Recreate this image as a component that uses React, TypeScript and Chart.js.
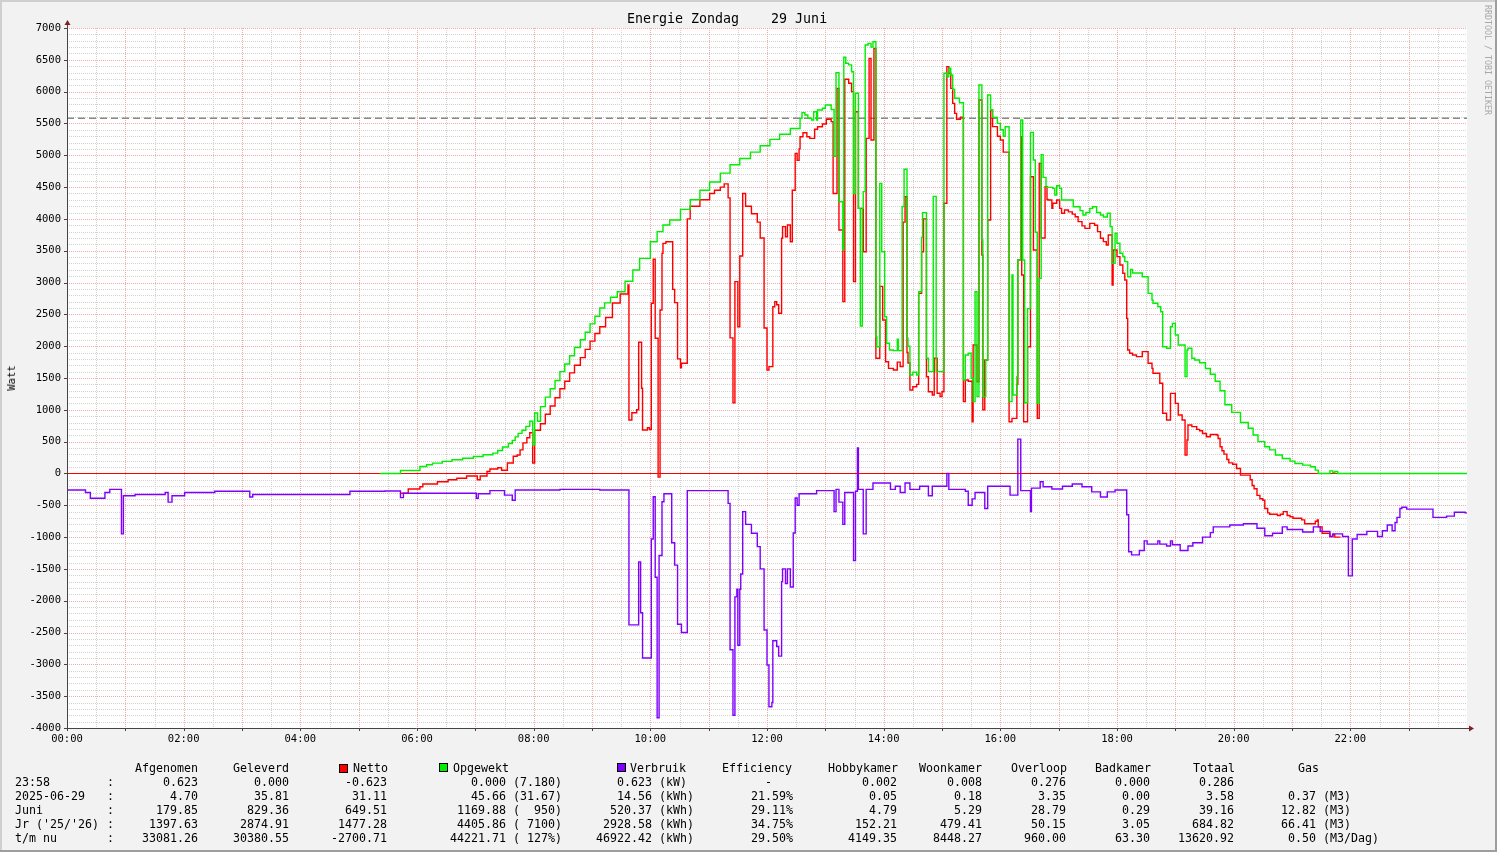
import { useEffect, useRef } from 'react';
import { Chart, registerables } from 'chart.js';

Chart.register(...registerables);

// ---------------- DATA (time in minutes since 00:00, value in Watt) ----------------
const opgewekt: [number, number][] = [
  [322, 0], [343, 47], [363, 110], [370, 136], [376, 162], [386, 190], [396, 215], [407, 240], [418, 267], [428, 293],
  [438, 320], [443, 360], [448, 415], [454, 470], [458, 520], [461, 575], [464, 630], [468, 680], [472, 740], [476, 820],
  [479, 445], [481, 950], [484, 820], [487, 1050], [492, 1200], [497, 1330], [502, 1460], [507, 1600], [512, 1720], [517, 1850],
  [522, 1980], [528, 2100], [533, 2220], [538, 2350], [543, 2470], [548, 2600], [553, 2680], [559, 2770], [566, 2856], [574, 3020],
  [582, 3197], [589, 3380], [600, 3642], [607, 3800], [613, 3904], [620, 3983], [631, 4150], [641, 4300], [651, 4450], [661, 4580],
  [672, 4720], [682, 4850], [692, 4950], [703, 5050], [713, 5150], [723, 5250], [733, 5330], [744, 5420], [754, 5581], [756, 5670],
  [759, 5633], [762, 5581], [766, 5554], [768, 5685], [771, 5554], [772, 5711], [777, 5738], [780, 5790], [786, 5720], [789, 4985],
  [791, 6298], [794, 4270], [798, 3512], [799, 6540], [801, 6445], [804, 6420], [807, 6313], [809, 4400], [811, 5974], [814, 4166],
  [816, 2317], [818, 4166], [819, 4428], [821, 6733], [824, 6759], [827, 6700], [829, 6785], [832, 2150], [833, 1992], [836, 4559],
  [838, 3485], [841, 2463], [843, 2045], [846, 1940], [850, 1930], [854, 2108], [855, 1930], [859, 4193], [861, 4780], [864, 2124],
  [865, 2000], [867, 1547], [870, 1590], [874, 1547], [876, 2856], [879, 3710], [880, 4098], [884, 1810], [886, 1600], [891, 4354],
  [894, 1600], [902, 6288], [905, 6235], [907, 6367], [909, 6261], [911, 6036], [913, 5895], [918, 5826], [922, 1468], [924, 1861],
  [927, 1888], [930, 1495], [932, 1128], [934, 2856], [936, 1207], [938, 6104], [941, 3669], [942, 1207], [945, 1783], [947, 5947],
  [950, 5711], [952, 5596], [957, 5502], [960, 5400], [963, 5300], [965, 5449], [969, 1128], [972, 3119], [973, 1233], [977, 1521],
  [978, 3354], [981, 5554], [983, 3354], [985, 1110], [988, 2590], [991, 5360], [994, 4926], [996, 3790], [998, 1102], [1000, 3066],
  [1002, 5010], [1004, 4653], [1007, 4495], [1014, 4480], [1016, 4376], [1018, 4520], [1021, 4480], [1023, 4297], [1035, 4192], [1042, 4130],
  [1045, 4061], [1048, 4100], [1052, 4166], [1055, 4192], [1059, 4100], [1063, 4061], [1066, 4030], [1070, 4090], [1073, 3878], [1075, 3302],
  [1078, 3774], [1080, 3617], [1083, 3460], [1086, 3410], [1088, 3328], [1091, 3092], [1094, 3207], [1096, 3150], [1106, 3092], [1112, 2830],
  [1116, 2725], [1117, 2674], [1122, 2620], [1125, 2542], [1127, 1992], [1131, 1967], [1135, 2306], [1137, 2358], [1140, 2175], [1143, 2019],
  [1150, 1521], [1152, 1940], [1153, 1967], [1157, 1810], [1160, 1783], [1165, 1740], [1171, 1650], [1176, 1560], [1181, 1450], [1186, 1300],
  [1191, 1080], [1198, 960], [1207, 800], [1215, 710], [1220, 605], [1225, 500], [1232, 420], [1237, 370], [1243, 290], [1250, 236],
  [1258, 194], [1263, 157], [1271, 131], [1279, 105], [1284, 52], [1287, 0], [1299, 40], [1302, 15], [1304, 30], [1307, 0], [1440, 0],
];

const netto: [number, number][] = [
  [343, -310], [351, -245], [363, -210], [366, -165], [381, -130], [392, -100], [401, -75], [411, -40], [422, -100], [425, -40],
  [432, 30], [435, 70], [443, 90], [447, 50], [453, 165], [459, 270], [463, 290], [466, 370], [469, 480], [473, 560],
  [476, 640], [479, 165], [481, 680], [487, 780], [492, 930], [497, 1060], [502, 1190], [507, 1330], [512, 1450], [517, 1580],
  [522, 1700], [528, 1820], [533, 1950], [538, 2080], [543, 2200], [548, 2306], [554, 2450], [561, 2678], [569, 2820], [577, 2962],
  [578, 840], [581, 955], [586, 1000], [588, 2061], [591, 1338], [592, 683], [597, 720], [599, 690], [601, 2674], [603, 3365],
  [605, 2124], [608, -57], [610, 2569], [612, 3459], [613, 3616], [616, 3642], [623, 2893], [625, 2684], [628, 1800], [631, 1660],
  [632, 1731], [638, 4000], [641, 4200], [651, 4300], [661, 4400], [666, 4450], [672, 4500], [676, 4550], [680, 4330], [682, 2130],
  [685, 1110], [687, 3014], [690, 2306], [692, 3417], [695, 4400], [698, 4200], [704, 4080], [710, 3950], [713, 3700], [717, 2285],
  [720, 1626], [722, 1678], [726, 2620], [728, 2700], [730, 2650], [732, 2517], [735, 3695], [736, 3878], [739, 3720], [741, 3904],
  [744, 3640], [746, 4450], [749, 5030], [751, 4920], [753, 5100], [754, 5292], [757, 5355], [761, 5292], [764, 5266], [769, 5408],
  [772, 5449], [777, 5491], [781, 5565], [786, 5528], [788, 4400], [792, 6052], [794, 3826], [798, 2700], [800, 6194], [804, 6131],
  [807, 6000], [809, 3014], [811, 5685], [814, 4166], [819, 3485], [822, 5266], [825, 6523], [827, 5240], [830, 6680], [832, 1810],
  [836, 2940], [839, 2411], [842, 1756], [845, 1652], [850, 1626], [854, 1750], [857, 1680], [860, 3950], [862, 4350], [864, 1900],
  [865, 1735], [867, 1311], [870, 1363], [874, 1400], [876, 2830], [879, 3485], [881, 4000], [884, 1520], [886, 1285], [890, 1233],
  [892, 1810], [895, 1260], [898, 1207], [900, 1285], [902, 4245], [905, 6393], [907, 6288], [909, 6052], [911, 5816], [913, 5659],
  [915, 5565], [919, 5600], [922, 1128], [924, 1469], [927, 1450], [931, 813], [932, 2019], [936, 1442], [938, 5869], [941, 3433],
  [942, 1000], [944, 1783], [947, 3983], [950, 5711], [952, 5450], [957, 5300], [960, 5240], [963, 5050], [969, 813], [972, 866],
  [977, 1400], [978, 3354], [981, 5292], [982, 3119], [984, 813], [988, 1992], [991, 4663], [994, 3512], [998, 866], [1000, 4873],
  [1002, 3700], [1006, 4506], [1008, 4306], [1009, 4297], [1013, 4166], [1014, 4245], [1018, 4297], [1021, 4166], [1023, 4088], [1026, 4140],
  [1030, 4110], [1034, 4075], [1037, 4035], [1040, 3957], [1044, 3890], [1047, 3852], [1052, 3930], [1057, 3900], [1060, 3800], [1063, 3695],
  [1066, 3643], [1069, 3590], [1071, 3747], [1075, 2962], [1076, 3512], [1080, 3407], [1083, 3276], [1086, 3145], [1088, 3040], [1090, 2437],
  [1091, 1940], [1093, 1888], [1096, 1862], [1100, 1836], [1106, 1914], [1112, 1731], [1116, 1652], [1117, 1574], [1124, 1417], [1127, 945],
  [1131, 840], [1135, 1259], [1140, 1102], [1143, 919], [1147, 840], [1150, 290], [1152, 526], [1153, 762], [1157, 736], [1162, 692],
  [1165, 670], [1168, 628], [1172, 576], [1176, 611], [1183, 600], [1184, 550], [1186, 420], [1188, 356], [1190, 304], [1193, 220],
  [1195, 167], [1199, 145], [1203, 78], [1207, -26], [1217, -100], [1219, -190], [1221, -240], [1224, -345], [1227, -397], [1230, -420],
  [1232, -550], [1235, -620], [1237, -640], [1245, -660], [1248, -640], [1251, -600], [1255, -660], [1258, -680], [1261, -705], [1270, -730],
  [1273, -790], [1284, -750], [1286, -730], [1287, -840], [1291, -940], [1299, -990], [1302, -960], [1304, -1000], [1310, -1000],
];

const verbruik: [number, number][] = [
  [0, -260], [19, -300], [24, -390], [34, -390], [39, -300], [44, -250], [56, -950], [58, -350], [70, -330], [101, -300],
  [104, -450], [108, -350], [121, -300], [152, -280], [188, -370], [191, -330], [240, -330], [291, -280], [327, -276], [343, -380],
  [346, -310], [421, -390], [423, -320], [435, -270], [450, -340], [458, -420], [461, -260], [507, -250], [548, -260], [578, -2380],
  [588, -1390], [590, -2190], [592, -2900], [601, -1030], [603, -365], [605, -1630], [607, -3840], [609, -1290], [612, -445], [614, -320],
  [622, -1090], [625, -1440], [628, -2370], [632, -2500], [638, -270], [680, -470], [682, -2770], [685, -3800], [687, -1940], [689, -1820],
  [690, -2700], [692, -1820], [693, -1580], [695, -600], [698, -800], [704, -940], [710, -1150], [713, -1500], [717, -2460], [720, -3010],
  [722, -3665], [725, -3600], [726, -2630], [730, -2720], [732, -2870], [735, -1700], [736, -1500], [739, -1730], [741, -1500], [744, -1785],
  [747, -935], [749, -385], [751, -500], [753, -320], [771, -270], [789, -600], [791, -250], [794, -450], [798, -800], [800, -300],
  [809, -1370], [811, -280], [813, 400], [814, -250], [819, -950], [822, -250], [829, -150], [839, -150], [847, -250], [852, -200],
  [857, -300], [862, -150], [867, -250], [877, -200], [886, -350], [890, -200], [905, 0], [907, -250], [924, -280], [927, -500],
  [931, -400], [934, -300], [944, -550], [947, -200], [970, -340], [978, 540], [981, -270], [991, -600], [992, -230], [1001, -130],
  [1004, -210], [1013, -245], [1024, -200], [1034, -165], [1044, -210], [1054, -290], [1063, -370], [1070, -290], [1078, -260], [1090, -650],
  [1092, -1230], [1095, -1280], [1103, -1210], [1108, -1060], [1111, -1110], [1122, -1060], [1124, -1110], [1131, -1140], [1135, -1060], [1137, -1120],
  [1145, -1210], [1153, -1140], [1158, -1090], [1168, -1000], [1176, -930], [1179, -840], [1196, -810], [1210, -790], [1224, -860], [1232, -980],
  [1240, -940], [1250, -840], [1255, -880], [1271, -920], [1282, -840], [1289, -910], [1299, -990], [1302, -950], [1312, -990], [1318, -1610],
  [1322, -1030], [1327, -960], [1337, -910], [1348, -990], [1353, -900], [1358, -810], [1363, -900], [1366, -770], [1368, -690], [1371, -550],
  [1373, -530], [1378, -560], [1405, -690], [1419, -670], [1427, -610], [1438, -620], [1440, -620],
];

const referenceLevel = 5580;
const timeLabels = ['00:00', '02:00', '04:00', '06:00', '08:00', '10:00', '12:00', '14:00', '16:00', '18:00', '20:00', '22:00'];

// ---------------- TABLE TEXT ----------------
const rowLabels = ['23:58', '2025-06-29', 'Juni', "Jr ('25/'26)", 't/m nu'];
const afgenomen = ['0.623', '4.70', '179.85', '1397.63', '33081.26'];
const geleverd = ['0.000', '35.81', '829.36', '2874.91', '30380.55'];
const nettoTxt = ['-0.623', '31.11', '649.51', '1477.28', '-2700.71'];
const opgewektTxt = ['0.000 (7.180)', '45.66 (31.67)', '1169.88 (  950)', '4405.86 ( 7100)', '44221.71 ( 127%)'];
const verbruikNum = ['0.623', '14.56', '520.37', '2928.58', '46922.42'];
const verbruikUnit = [' (kW)', ' (kWh)', ' (kWh)', ' (kWh)', ' (kWh)'];
const efficiency = ['-   ', '21.59%', '29.11%', '34.75%', '29.50%'];
const hobbykamer = ['0.002', '0.05', '4.79', '152.21', '4149.35'];
const woonkamer = ['0.008', '0.18', '5.29', '479.41', '8448.27'];
const overloop = ['0.276', '3.35', '28.79', '50.15', '960.00'];
const badkamer = ['0.000', '0.00', '0.29', '3.05', '63.30'];
const totaal = ['0.286', '3.58', '39.16', '684.82', '13620.92'];
const gasNum = ['', '0.37', '12.82', '66.41', '0.50'];
const gasUnit = ['', ' (M3)', ' (M3)', ' (M3)', ' (M3/Dag)'];

const W = 1497;
const H = 852;
const MONO = '"DejaVu Sans Mono", monospace';
const RED = '#FF0000';
const GREEN = '#00EE00';
const PURPLE = '#8000FF';
const LINE_W = 1.4;

const rrdPlugin = {
  id: 'rrdLook',
  beforeDraw(chart: any) {
    const { ctx, chartArea: a } = chart;
    ctx.save();
    ctx.fillStyle = '#F2F2F2';
    ctx.fillRect(0, 0, W, H);
    ctx.fillStyle = '#CFCFCF';
    ctx.fillRect(0, 0, W, 2);
    ctx.fillRect(0, 0, 2, H);
    ctx.fillStyle = '#9E9E9E';
    ctx.fillRect(0, H - 2, W, 2);
    ctx.fillRect(W - 2, 0, 2, H);
    ctx.fillStyle = '#FFFFFF';
    ctx.fillRect(a.left, a.top, a.right - a.left, a.bottom - a.top);
    ctx.restore();
  },
  beforeDatasetsDraw(chart: any) {
    const { ctx, chartArea: a, scales } = chart;
    const xs = scales.x;
    const ys = scales.y;
    ctx.save();
    ctx.lineWidth = 1;
    ctx.setLineDash([1, 1]);
    const minor = '#D2D2D2';
    const major = '#F2A8A8';
    for (let pass = 0; pass < 2; pass++) {
      for (let v = -4000; v <= 7000; v += 100) {
        const isMajor = v % 500 === 0;
        if ((pass === 0) === isMajor) continue;
        const y = Math.round(ys.getPixelForValue(v)) + 0.5;
        ctx.strokeStyle = isMajor ? major : minor;
        ctx.beginPath();
        ctx.moveTo(a.left, y);
        ctx.lineTo(a.right, y);
        ctx.stroke();
      }
    }
    for (let t = 30; t < 1440; t += 30) {
      const isMajor = t % 60 === 0;
      const x = Math.round(xs.getPixelForValue(t)) + 0.5;
      ctx.strokeStyle = isMajor ? major : minor;
      ctx.beginPath();
      ctx.moveTo(x, a.top);
      ctx.lineTo(x, a.bottom);
      ctx.stroke();
    }
    ctx.setLineDash([7, 4]);
    ctx.strokeStyle = '#888888';
    ctx.lineWidth = 1.5;
    const yr = ys.getPixelForValue(referenceLevel);
    ctx.beginPath();
    ctx.moveTo(a.left, yr);
    ctx.lineTo(a.right, yr);
    ctx.stroke();
    ctx.setLineDash([]);
    ctx.strokeStyle = RED;
    ctx.lineWidth = 1;
    const y0 = Math.round(ys.getPixelForValue(0)) + 0.5;
    ctx.beginPath();
    ctx.moveTo(a.left, y0);
    ctx.lineTo(a.right, y0);
    ctx.stroke();
    ctx.restore();
  },
  afterDatasetsDraw(chart: any) {
    const { ctx, chartArea: a, scales } = chart;
    const xs = scales.x;
    const ys = scales.y;
    ctx.save();
    ctx.setLineDash([]);
    ctx.strokeStyle = '#444444';
    ctx.lineWidth = 1;
    const ax = a.left + 0.5;
    const ay = a.bottom + 0.5;
    ctx.beginPath();
    ctx.moveTo(ax, a.bottom + 2);
    ctx.lineTo(ax, a.top - 4);
    ctx.moveTo(a.left - 2, ay);
    ctx.lineTo(a.right + 4, ay);
    for (let v = -4000; v <= 7000; v += 500) {
      const y = Math.round(ys.getPixelForValue(v)) + 0.5;
      ctx.moveTo(a.left - 3, y);
      ctx.lineTo(a.left, y);
    }
    for (let t = 0; t < 1440; t += 60) {
      const x = Math.round(xs.getPixelForValue(t)) + 0.5;
      ctx.moveTo(x, a.bottom);
      ctx.lineTo(x, a.bottom + 3);
    }
    ctx.stroke();
    ctx.fillStyle = '#801F1F';
    ctx.beginPath();
    ctx.moveTo(ax - 3, a.top - 3);
    ctx.lineTo(ax + 3, a.top - 3);
    ctx.lineTo(ax, a.top - 8);
    ctx.closePath();
    ctx.fill();
    ctx.beginPath();
    ctx.moveTo(a.right + 2, ay - 3);
    ctx.lineTo(a.right + 2, ay + 3);
    ctx.lineTo(a.right + 7, ay);
    ctx.closePath();
    ctx.fill();
    ctx.restore();
  },
};

const toXY = (arr: [number, number][]) => arr.map(([t, v]) => ({ x: t, y: v }));

function Txt(props: { x: number; y: number; align?: 'left' | 'right'; children: any; style?: any }) {
  const { x, y, align = 'left', children, style } = props;
  const s: any = {
    position: 'absolute',
    top: y,
    whiteSpace: 'pre',
    font: `11.63px ${MONO}`,
    lineHeight: '14px',
    color: '#000',
    ...style,
  };
  if (align === 'left') s.left = x;
  else s.right = W - x;
  return <div style={s}>{children}</div>;
}

function Swatch(props: { x: number; y: number; color: string }) {
  return (
    <div
      style={{
        position: 'absolute',
        left: props.x,
        top: props.y,
        width: 7,
        height: 7,
        border: '1px solid #000',
        background: props.color,
      }}
    />
  );
}

export default function App() {
  const ref = useRef<HTMLCanvasElement | null>(null);

  useEffect(() => {
    document.body.style.margin = '0';
    const canvas = ref.current;
    if (!canvas) return;
    const mk = (label: string, data: [number, number][], color: string, order: number) => ({
      label,
      data: toXY(data),
      borderColor: color,
      borderWidth: LINE_W,
      pointRadius: 0,
      stepped: 'before',
      fill: false,
      order,
    });
    const chart = new Chart(canvas, {
      type: 'line',
      data: {
        datasets: [
          mk('Verbruik', verbruik, PURPLE, 0),
          mk('Opgewekt', opgewekt, GREEN, 1),
          mk('Netto', netto, RED, 2),
        ],
      },
      options: {
        responsive: false,
        maintainAspectRatio: false,
        animation: false,
        devicePixelRatio: 1,
        parsing: false as any,
        layout: { padding: { left: 0, right: 30, top: 28, bottom: 0 } },
        plugins: {
          legend: { display: false },
          tooltip: { enabled: false },
          title: { display: false },
        },
        scales: {
          x: {
            type: 'linear',
            min: 0,
            max: 1440,
            grid: { display: false, drawTicks: false },
            border: { display: false },
            ticks: {
              stepSize: 120,
              autoSkip: false,
              maxRotation: 0,
              padding: 5,
              color: '#000',
              font: { family: MONO, size: 10.5 },
              callback: (v: any) => {
                const n = Number(v);
                return n % 120 === 0 && n < 1440 ? timeLabels[n / 120] : '';
              },
            },
            afterFit: (s: any) => {
              s.height = 124;
            },
          },
          y: {
            type: 'linear',
            min: -4000,
            max: 7000,
            grid: { display: false, drawTicks: false },
            border: { display: false },
            ticks: {
              stepSize: 100,
              autoSkip: false,
              maxTicksLimit: 500,
              padding: 6,
              color: '#000',
              font: { family: MONO, size: 10.5 },
              callback: (v: any) => {
                const n = Math.round(Number(v));
                return n % 500 === 0 ? String(n) : '';
              },
            },
            afterFit: (s: any) => {
              s.width = 67;
            },
          },
        },
      },
      plugins: [rrdPlugin],
    } as any);
    return () => chart.destroy();
  }, []);

  const rowTop = (i: number) => 775 + 14 * i;

  return (
    <div style={{ position: 'absolute', left: 0, top: 0, width: W, height: H, overflow: 'hidden', background: '#F2F2F2' }}>
      <canvas ref={ref} width={W} height={H} style={{ position: 'absolute', left: 0, top: 0, width: W, height: H }} />
      <div
        style={{
          position: 'absolute',
          left: 627,
          top: 11,
          whiteSpace: 'pre',
          font: `13.3px ${MONO}`,
          lineHeight: '16px',
          color: '#000',
        }}
      >
        {'Energie Zondag    29 Juni'}
      </div>
      <div
        style={{
          position: 'absolute',
          left: 11,
          top: 378,
          transform: 'translate(-50%, -50%) rotate(-90deg)',
          font: `10.5px ${MONO}`,
          lineHeight: '12px',
          color: '#000',
          whiteSpace: 'pre',
        }}
      >
        Watt
      </div>
      <div
        style={{
          position: 'absolute',
          left: 1483,
          top: 5,
          writingMode: 'vertical-rl',
          font: `8.3px ${MONO}`,
          lineHeight: '10px',
          color: '#A8A8A8',
          whiteSpace: 'pre',
        }}
      >
        RRDTOOL / TOBI OETIKER
      </div>

      <Txt x={198} y={761} align="right">Afgenomen</Txt>
      <Txt x={289} y={761} align="right">Geleverd</Txt>
      <Swatch x={339} y={764} color={RED} />
      <Txt x={353} y={761}>Netto</Txt>
      <Swatch x={439} y={763} color={GREEN} />
      <Txt x={453} y={761}>Opgewekt</Txt>
      <Swatch x={617} y={763} color={PURPLE} />
      <Txt x={630} y={761}>Verbruik</Txt>
      <Txt x={792} y={761} align="right">Efficiency</Txt>
      <Txt x={898} y={761} align="right">Hobbykamer</Txt>
      <Txt x={982} y={761} align="right">Woonkamer</Txt>
      <Txt x={1067} y={761} align="right">Overloop</Txt>
      <Txt x={1151} y={761} align="right">Badkamer</Txt>
      <Txt x={1235} y={761} align="right">Totaal</Txt>
      <Txt x={1319} y={761} align="right">Gas</Txt>

      {rowLabels.map((lab, i) => (
        <div key={i}>
          <Txt x={15} y={rowTop(i)}>{lab}</Txt>
          <Txt x={107} y={rowTop(i)}>:</Txt>
          <Txt x={198} y={rowTop(i)} align="right">{afgenomen[i]}</Txt>
          <Txt x={289} y={rowTop(i)} align="right">{geleverd[i]}</Txt>
          <Txt x={387} y={rowTop(i)} align="right">{nettoTxt[i]}</Txt>
          <Txt x={562} y={rowTop(i)} align="right">{opgewektTxt[i]}</Txt>
          <Txt x={652} y={rowTop(i)} align="right">{verbruikNum[i]}</Txt>
          <Txt x={652} y={rowTop(i)}>{verbruikUnit[i]}</Txt>
          <Txt x={793} y={rowTop(i)} align="right">{efficiency[i]}</Txt>
          <Txt x={897} y={rowTop(i)} align="right">{hobbykamer[i]}</Txt>
          <Txt x={982} y={rowTop(i)} align="right">{woonkamer[i]}</Txt>
          <Txt x={1066} y={rowTop(i)} align="right">{overloop[i]}</Txt>
          <Txt x={1150} y={rowTop(i)} align="right">{badkamer[i]}</Txt>
          <Txt x={1234} y={rowTop(i)} align="right">{totaal[i]}</Txt>
          <Txt x={1316} y={rowTop(i)} align="right">{gasNum[i]}</Txt>
          <Txt x={1316} y={rowTop(i)}>{gasUnit[i]}</Txt>
        </div>
      ))}
    </div>
  );
}
